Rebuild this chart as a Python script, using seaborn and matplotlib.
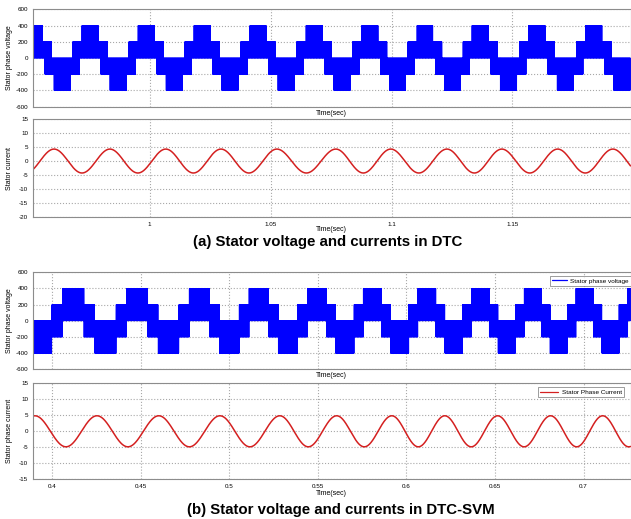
import numpy as np
import matplotlib
matplotlib.use("Agg")
import matplotlib.pyplot as plt
import seaborn as sns

# ---------------- (a) DTC ----------------
dtc_xlim = (0.9518, 1.1988)
dtc_xticks = [1.0, 1.05, 1.1, 1.15]
dtc_xticklabels = ["1", "1.05", "1.1", "1.15"]
# centres of the 0..400 V blocks of the phase voltage (s)
dtc_volt_centres = [0.9523, 0.9754, 0.9986, 1.0217, 1.0448, 1.0680,
                    1.0911, 1.1138, 1.1366, 1.1601, 1.1837, 1.2068]
# one electrical cycle of the switched voltage: phase edges and band limits
dtc_phase_edges = [0.0, 0.145, 0.19, 0.31, 0.355, 0.645, 0.69, 0.81, 0.855, 1.0]
dtc_band_low = [0, 0, -200, -200, -400, -200, -200, 0, 0]
dtc_band_high = [400, 200, 200, 0, 0, 0, 200, 200, 400]
# stator current: time of each positive peak (s) and amplitude (A)
dtc_curr_peaks = [0.9373, 0.9605, 0.9836, 1.0067, 1.0295, 1.0526, 1.0770,
                  1.0997, 1.1229, 1.1456, 1.1687, 1.1915, 1.2146]
dtc_curr_amp = 4.3

# ---------------- (b) DTC-SVM ----------------
svm_xlim = (0.3893, 0.7265)
svm_xticks = [0.4, 0.45, 0.5, 0.55, 0.6, 0.65, 0.7]
svm_xticklabels = ["0.4", "0.45", "0.5", "0.55", "0.6", "0.65", "0.7"]
svm_volt_centres = [0.3758, 0.4120, 0.4482, 0.4833, 0.5168, 0.5496, 0.5809,
                    0.6116, 0.6419, 0.6714, 0.7006, 0.7298, 0.7590]
svm_phase_edges = [0.0, 1 / 6, 1 / 3, 2 / 3, 5 / 6, 1.0]
svm_band_low = [0, -200, -400, -200, 0]
svm_band_high = [400, 200, 0, 200, 400]
svm_curr_peaks = [0.3904, 0.4254, 0.4603, 0.4948, 0.5286, 0.5607, 0.5918,
                  0.6217, 0.6515, 0.6814, 0.7108, 0.7402]
svm_curr_amp = 4.85

volt_color = "#0000ff"
curr_color = "#d42020"
grid_color = "#a8a8a8"
edge_color = "#8c8c8c"


def switching_wave(centres, edges, lows, highs, t):
    # PWM voltage: alternates between the two levels of the active band
    centres = np.asarray(centres)
    k = np.searchsorted(centres, t, side="right") - 1
    phase = (t - centres[k]) / (centres[k + 1] - centres[k])
    seg = np.clip(np.searchsorted(edges, phase, side="right") - 1, 0, len(lows) - 1)
    lo = np.asarray(lows)[seg]
    hi = np.asarray(highs)[seg]
    return np.where(np.arange(t.size) % 2 == 0, hi, lo)


def wave_from_peaks(peaks, amp, t):
    peaks = np.asarray(peaks)
    k = np.searchsorted(peaks, t, side="right") - 1
    phase = (t - peaks[k]) / (peaks[k + 1] - peaks[k])
    return amp * np.cos(2 * np.pi * phase)


sns.set_style("white")
plt.rcParams["font.family"] = ["Liberation Sans", "DejaVu Sans"]
plt.rcParams["axes.unicode_minus"] = False
plt.rcParams["text.color"] = "black"
plt.rcParams["axes.labelcolor"] = "black"
plt.rcParams["xtick.color"] = "black"
plt.rcParams["ytick.color"] = "black"

W, H = 631, 519
fig = plt.figure(figsize=(W / 100, H / 100), dpi=100)


def make_axes(top, bottom):
    return fig.add_axes([33 / W, 1 - bottom / H, 597.5 / W, (bottom - top) / H])


def style(ax, xlim, xticks, xticklabels, ylim, yticks, ylabel, show_xt, xlab_y):
    ax.set_xlim(*xlim)
    ax.set_ylim(*ylim)
    ax.set_xticks(xticks)
    ax.set_xticklabels(xticklabels if show_xt else [""] * len(xticks))
    ax.set_yticks(yticks)
    ax.grid(True, linestyle=":", color=grid_color, linewidth=0.8)
    for s in ax.spines.values():
        s.set_color(edge_color)
        s.set_linewidth(0.8)
    ax.tick_params(axis="both", labelsize=4.5, length=2, width=0.6,
                   color=edge_color, labelcolor="black", pad=1.5, direction="out")
    ax.set_ylabel(ylabel, fontsize=5, color="black")
    ax.yaxis.set_label_coords(-0.033, 0.5)
    ax.set_xlabel("Time(sec)", fontsize=5, color="black")
    ax.xaxis.set_label_coords(0.5, xlab_y)


volt_yticks = [-600, -400, -200, 0, 200, 400, 600]

# (a) voltage
ax1 = make_axes(9.3, 106.7)
t = np.linspace(dtc_xlim[0], dtc_xlim[1], 16000)
v = switching_wave(dtc_volt_centres, dtc_phase_edges, dtc_band_low, dtc_band_high, t)
sns.lineplot(x=t, y=v, ax=ax1, color=volt_color, linewidth=0.5,
             estimator=None, sort=False, legend=False)
style(ax1, dtc_xlim, dtc_xticks, dtc_xticklabels, (-600, 600), volt_yticks,
      "Stator phase voltage", False, -0.03)

# (a) current
ax2 = make_axes(119.3, 216.7)
t = np.linspace(dtc_xlim[0], dtc_xlim[1], 3000)
sns.lineplot(x=t, y=wave_from_peaks(dtc_curr_peaks, dtc_curr_amp, t), ax=ax2,
             color=curr_color, linewidth=1.1, estimator=None, sort=False, legend=False)
style(ax2, dtc_xlim, dtc_xticks, dtc_xticklabels, (-20, 15), list(range(-20, 16, 5)),
      "Stator current", True, -0.095)

fig.text(328 / W, 1 - 242 / H, "(a) Stator voltage and currents in DTC",
         ha="center", va="center", fontsize=10.8, fontweight="bold", color="black")

# (b) voltage
ax3 = make_axes(272.3, 369.3)
t = np.linspace(svm_xlim[0], svm_xlim[1], 16000)
v = switching_wave(svm_volt_centres, svm_phase_edges, svm_band_low, svm_band_high, t)
sns.lineplot(x=t, y=v, ax=ax3, color=volt_color, linewidth=0.5,
             estimator=None, sort=False, label="Stator phase voltage")
style(ax3, svm_xlim, svm_xticks, svm_xticklabels, (-600, 600), volt_yticks,
      "Stator phase voltage", False, -0.03)
leg = ax3.legend(loc="upper right", bbox_to_anchor=(1.0, 0.962), fontsize=4.6,
                 frameon=True, fancybox=False, borderaxespad=0, borderpad=0.35,
                 handlelength=2.4, handletextpad=0.4)
leg.get_frame().set_edgecolor("#707070")
leg.get_frame().set_linewidth(0.6)
for ln in leg.get_lines():
    ln.set_linewidth(0.9)

# (b) current
ax4 = make_axes(383.3, 479.3)
t = np.linspace(svm_xlim[0], svm_xlim[1], 3000)
sns.lineplot(x=t, y=wave_from_peaks(svm_curr_peaks, svm_curr_amp, t), ax=ax4,
             color=curr_color, linewidth=1.1, estimator=None, sort=False,
             label="Stator Phase Current")
style(ax4, svm_xlim, svm_xticks, svm_xticklabels, (-15, 15), list(range(-15, 16, 5)),
      "Stator phase current", True, -0.11)
leg = ax4.legend(loc="upper right", bbox_to_anchor=(0.989, 0.961), fontsize=4.6,
                 frameon=True, fancybox=False, borderaxespad=0, borderpad=0.35,
                 handlelength=2.8, handletextpad=0.6)
leg.get_frame().set_edgecolor("#707070")
leg.get_frame().set_linewidth(0.6)
for ln in leg.get_lines():
    ln.set_linewidth(0.9)

fig.text(341 / W, 1 - 510 / H, "(b) Stator voltage and currents in DTC-SVM",
         ha="center", va="center", fontsize=10.8, fontweight="bold", color="black")

fig.savefig("out.png", dpi=100)
